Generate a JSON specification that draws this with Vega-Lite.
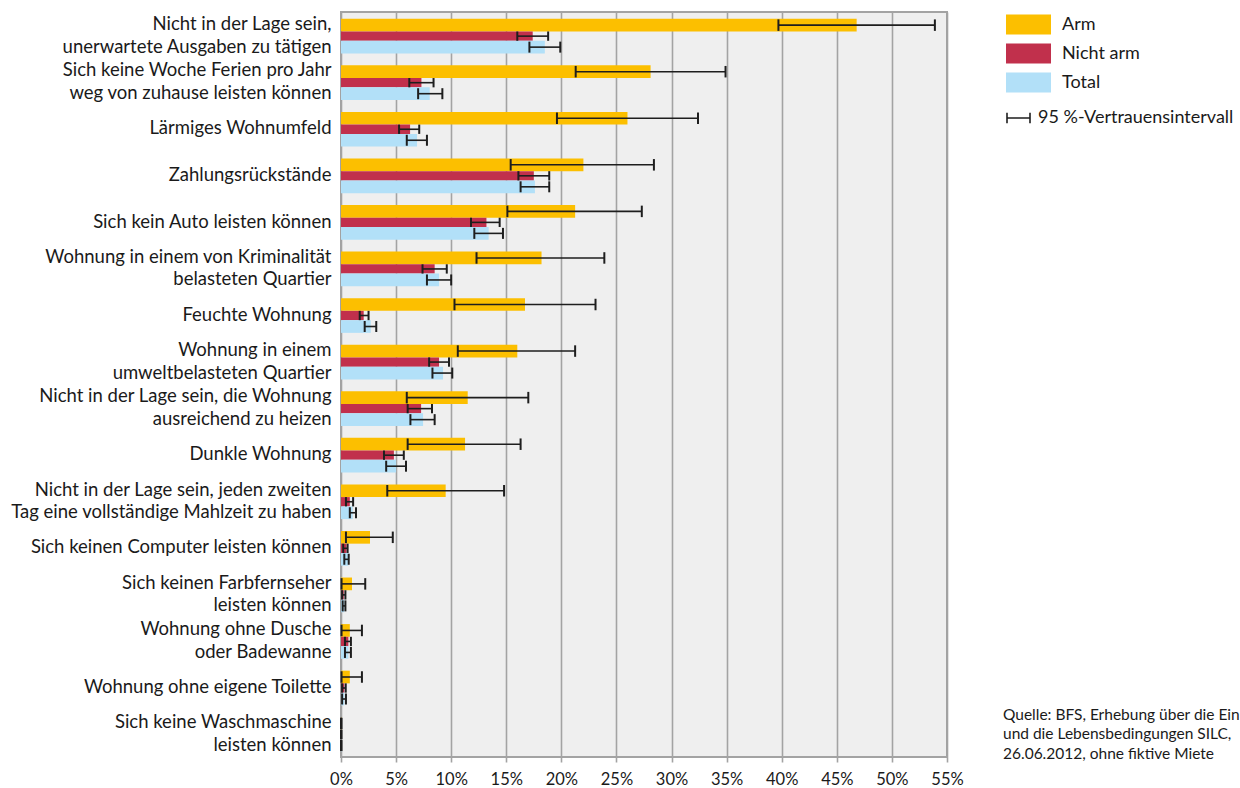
{
  "$schema": "https://vega.github.io/schema/vega-lite/v6.json",
  "autosize": {"type": "none"},
  "padding": {"left": 341, "top": 12, "right": 293, "bottom": 31},
  "width": 606,
  "height": 745,
  "background": "white",
  "config": {
    "font": "Lato",
    "view": {"fill": "#efefef", "stroke": "#a3a3a3", "strokeWidth": 2},
    "legend": {"labelFont": "Lato", "labelFontSize": 18, "labelColor": "#1a1a1a", "padding": 0, "labelLimit": 400}
  },
  "title": {
    "text": ["Quelle: BFS, Erhebung über die Einkommen", "und die Lebensbedingungen SILC,", "26.06.2012, ohne fiktive Miete"],
    "orient": "bottom",
    "anchor": "start",
    "frame": "group",
    "dx": 662,
    "dy": -84,
    "font": "Lato",
    "fontSize": 15.5,
    "fontWeight": "normal",
    "color": "#1a1a1a",
    "lineHeight": 19.5,
    "baseline": "top"
  },
  "data": {
    "values": [
      {"item": "Nicht in der Lage sein,|unerwartete Ausgaben zu tätigen", "series": "Arm", "value": 46.8, "lo": 39.7, "hi": 53.9},
      {"item": "Nicht in der Lage sein,|unerwartete Ausgaben zu tätigen", "series": "Nicht arm", "value": 17.4, "lo": 16.0, "hi": 18.8},
      {"item": "Nicht in der Lage sein,|unerwartete Ausgaben zu tätigen", "series": "Total", "value": 18.5, "lo": 17.1, "hi": 19.9},
      {"item": "Sich keine Woche Ferien pro Jahr|weg von zuhause leisten können", "series": "Arm", "value": 28.1, "lo": 21.3, "hi": 34.9},
      {"item": "Sich keine Woche Ferien pro Jahr|weg von zuhause leisten können", "series": "Nicht arm", "value": 7.3, "lo": 6.2, "hi": 8.4},
      {"item": "Sich keine Woche Ferien pro Jahr|weg von zuhause leisten können", "series": "Total", "value": 8.05, "lo": 7.0, "hi": 9.2},
      {"item": "Lärmiges Wohnumfeld", "series": "Arm", "value": 26.0, "lo": 19.6, "hi": 32.4},
      {"item": "Lärmiges Wohnumfeld", "series": "Nicht arm", "value": 6.27, "lo": 5.27, "hi": 7.1},
      {"item": "Lärmiges Wohnumfeld", "series": "Total", "value": 6.9, "lo": 5.97, "hi": 7.8},
      {"item": "Zahlungsrückstände", "series": "Arm", "value": 22.0, "lo": 15.4, "hi": 28.4},
      {"item": "Zahlungsrückstände", "series": "Nicht arm", "value": 17.5, "lo": 16.1, "hi": 18.9},
      {"item": "Zahlungsrückstände", "series": "Total", "value": 17.6, "lo": 16.3, "hi": 18.9},
      {"item": "Sich kein Auto leisten können", "series": "Arm", "value": 21.25, "lo": 15.1, "hi": 27.3},
      {"item": "Sich kein Auto leisten können", "series": "Nicht arm", "value": 13.2, "lo": 11.8, "hi": 14.4},
      {"item": "Sich kein Auto leisten können", "series": "Total", "value": 13.4, "lo": 12.1, "hi": 14.7},
      {"item": "Wohnung in einem von Kriminalität|belasteten Quartier", "series": "Arm", "value": 18.2, "lo": 12.3, "hi": 23.9},
      {"item": "Wohnung in einem von Kriminalität|belasteten Quartier", "series": "Nicht arm", "value": 8.5, "lo": 7.4, "hi": 9.6},
      {"item": "Wohnung in einem von Kriminalität|belasteten Quartier", "series": "Total", "value": 8.9, "lo": 7.8, "hi": 10.0},
      {"item": "Feuchte Wohnung", "series": "Arm", "value": 16.7, "lo": 10.3, "hi": 23.1},
      {"item": "Feuchte Wohnung", "series": "Nicht arm", "value": 2.06, "lo": 1.7, "hi": 2.5},
      {"item": "Feuchte Wohnung", "series": "Total", "value": 2.7, "lo": 2.15, "hi": 3.2},
      {"item": "Wohnung in einem|umweltbelasteten Quartier", "series": "Arm", "value": 16.0, "lo": 10.6, "hi": 21.25},
      {"item": "Wohnung in einem|umweltbelasteten Quartier", "series": "Nicht arm", "value": 8.9, "lo": 8.0, "hi": 9.8},
      {"item": "Wohnung in einem|umweltbelasteten Quartier", "series": "Total", "value": 9.26, "lo": 8.3, "hi": 10.1},
      {"item": "Nicht in der Lage sein, die Wohnung|ausreichend zu heizen", "series": "Arm", "value": 11.5, "lo": 5.97, "hi": 17.0},
      {"item": "Nicht in der Lage sein, die Wohnung|ausreichend zu heizen", "series": "Nicht arm", "value": 7.27, "lo": 6.05, "hi": 8.26},
      {"item": "Nicht in der Lage sein, die Wohnung|ausreichend zu heizen", "series": "Total", "value": 7.45, "lo": 6.3, "hi": 8.5},
      {"item": "Dunkle Wohnung", "series": "Arm", "value": 11.26, "lo": 6.05, "hi": 16.3},
      {"item": "Dunkle Wohnung", "series": "Nicht arm", "value": 4.8, "lo": 3.9, "hi": 5.7},
      {"item": "Dunkle Wohnung", "series": "Total", "value": 5.0, "lo": 4.1, "hi": 5.9},
      {"item": "Nicht in der Lage sein, jeden zweiten|Tag eine vollständige Mahlzeit zu haben", "series": "Arm", "value": 9.5, "lo": 4.2, "hi": 14.8},
      {"item": "Nicht in der Lage sein, jeden zweiten|Tag eine vollständige Mahlzeit zu haben", "series": "Nicht arm", "value": 0.8, "lo": 0.45, "hi": 1.1},
      {"item": "Nicht in der Lage sein, jeden zweiten|Tag eine vollständige Mahlzeit zu haben", "series": "Total", "value": 1.06, "lo": 0.8, "hi": 1.36},
      {"item": "Sich keinen Computer leisten können", "series": "Arm", "value": 2.63, "lo": 0.45, "hi": 4.7},
      {"item": "Sich keinen Computer leisten können", "series": "Nicht arm", "value": 0.5, "lo": 0.2, "hi": 0.6},
      {"item": "Sich keinen Computer leisten können", "series": "Total", "value": 0.67, "lo": 0.3, "hi": 0.7},
      {"item": "Sich keinen Farbfernseher|leisten können", "series": "Arm", "value": 1.0, "lo": 0.05, "hi": 2.2},
      {"item": "Sich keinen Farbfernseher|leisten können", "series": "Nicht arm", "value": 0.25, "lo": 0.1, "hi": 0.4},
      {"item": "Sich keinen Farbfernseher|leisten können", "series": "Total", "value": 0.3, "lo": 0.15, "hi": 0.4},
      {"item": "Wohnung ohne Dusche|oder Badewanne", "series": "Arm", "value": 0.8, "lo": 0.05, "hi": 1.9},
      {"item": "Wohnung ohne Dusche|oder Badewanne", "series": "Nicht arm", "value": 0.67, "lo": 0.36, "hi": 0.9},
      {"item": "Wohnung ohne Dusche|oder Badewanne", "series": "Total", "value": 0.67, "lo": 0.36, "hi": 0.9},
      {"item": "Wohnung ohne eigene Toilette", "series": "Arm", "value": 0.8, "lo": 0.05, "hi": 1.9},
      {"item": "Wohnung ohne eigene Toilette", "series": "Nicht arm", "value": 0.3, "lo": 0.1, "hi": 0.43},
      {"item": "Wohnung ohne eigene Toilette", "series": "Total", "value": 0.3, "lo": 0.1, "hi": 0.45},
      {"item": "Sich keine Waschmaschine|leisten können", "series": "Arm", "value": 0.03, "lo": 0.0, "hi": 0.05},
      {"item": "Sich keine Waschmaschine|leisten können", "series": "Nicht arm", "value": 0.03, "lo": 0.0, "hi": 0.05},
      {"item": "Sich keine Waschmaschine|leisten können", "series": "Total", "value": 0.03, "lo": 0.0, "hi": 0.05}
    ]
  },
  "encoding": {
    "y": {
      "field": "item",
      "type": "nominal",
      "sort": null,
      "title": null,
      "scale": {"paddingInner": 0, "paddingOuter": 0},
      "axis": {
        "domain": false,
        "ticks": false,
        "grid": false,
        "labelPadding": 10,
        "labelFont": "Lato",
        "labelFontSize": 18.5,
        "labelLineHeight": 22.7,
        "labelColor": "#1a1a1a",
        "labelLimit": 400,
        "labelOffset": {"expr": "indexof(datum.value, '|') >= 0 ? -11.35 : 0"},
        "labelExpr": "split(datum.value, '|')"
      }
    }
  },
  "layer": [
    {
      "transform": [{"filter": "datum.series === 'Arm'"}],
      "mark": {"type": "bar", "height": 12.7, "yOffset": -10.15},
      "encoding": {
        "x": {
          "field": "value",
          "type": "quantitative",
          "title": null,
          "scale": {"domain": [0, 55], "nice": false},
          "axis": {
            "values": [0, 5, 10, 15, 20, 25, 30, 35, 40, 45, 50, 55],
            "labelExpr": "datum.value + '%'",
            "grid": true,
            "gridColor": "#a3a3a3",
            "gridWidth": 1.6,
            "domain": false,
            "tickColor": "#a3a3a3",
            "tickWidth": 1.6,
            "tickSize": 5,
            "labelFont": "Lato",
            "labelFontSize": 16.5,
            "labelColor": "#1a1a1a",
            "labelPadding": 9,
            "labelFlush": false
          }
        },
        "fill": {
          "field": "series",
          "type": "nominal",
          "scale": {"domain": ["Arm", "Nicht arm", "Total"], "range": ["#fcbf00", "#c1304c", "#b2e0f8"]},
          "legend": {
            "title": null,
            "orient": "none",
            "legendX": 665,
            "legendY": -2,
            "symbolType": "M-1,-0.444H1V0.444H-1Z",
            "symbolSize": 2025,
            "symbolStrokeWidth": 0,
            "clipHeight": 29,
            "rowPadding": 0,
            "labelOffset": 11
          }
        }
      }
    },
    {
      "transform": [{"filter": "datum.series === 'Nicht arm'"}],
      "mark": {"type": "bar", "height": 9.3, "yOffset": 0.85},
      "encoding": {
        "x": {"field": "value", "type": "quantitative", "title": null, "scale": {"domain": [0, 55], "nice": false}},
        "fill": {"field": "series", "type": "nominal", "scale": {"domain": ["Arm", "Nicht arm", "Total"], "range": ["#fcbf00", "#c1304c", "#b2e0f8"]}}
      }
    },
    {
      "transform": [{"filter": "datum.series === 'Total'"}],
      "mark": {"type": "bar", "height": 12.7, "yOffset": 11.85},
      "encoding": {
        "x": {"field": "value", "type": "quantitative", "title": null, "scale": {"domain": [0, 55], "nice": false}},
        "fill": {"field": "series", "type": "nominal", "scale": {"domain": ["Arm", "Nicht arm", "Total"], "range": ["#fcbf00", "#c1304c", "#b2e0f8"]}}
      }
    },
    {
      "transform": [{"filter": "datum.series === 'Arm'"}],
      "mark": {"type": "rule", "yOffset": -10.15, "strokeWidth": 1.6},
      "encoding": {
        "x": {"field": "lo", "type": "quantitative", "title": null, "scale": {"domain": [0, 55], "nice": false}},
        "x2": {"field": "hi"},
        "stroke": {
          "datum": "95 %-Vertrauensintervall",
          "scale": {"range": ["#1e1e1e"]},
          "legend": {
            "title": null,
            "orient": "none",
            "legendX": 665,
            "legendY": 93.5,
            "symbolType": "M-1,-0.45V0.45M-1,0H1M1,-0.45V0.45",
            "symbolSize": 529,
            "symbolStrokeWidth": 1.6,
            "labelOffset": 7,
            "labelLimit": 400
          }
        }
      }
    },
    {
      "transform": [{"filter": "datum.series === 'Nicht arm'"}],
      "mark": {"type": "rule", "yOffset": 0.85, "strokeWidth": 1.6},
      "encoding": {
        "x": {"field": "lo", "type": "quantitative", "title": null, "scale": {"domain": [0, 55], "nice": false}},
        "x2": {"field": "hi"},
        "stroke": {"datum": "95 %-Vertrauensintervall", "scale": {"range": ["#1e1e1e"]}}
      }
    },
    {
      "transform": [{"filter": "datum.series === 'Total'"}],
      "mark": {"type": "rule", "yOffset": 11.85, "strokeWidth": 1.6},
      "encoding": {
        "x": {"field": "lo", "type": "quantitative", "title": null, "scale": {"domain": [0, 55], "nice": false}},
        "x2": {"field": "hi"},
        "stroke": {"datum": "95 %-Vertrauensintervall", "scale": {"range": ["#1e1e1e"]}}
      }
    },
    {
      "transform": [{"filter": "datum.series === 'Arm'"}, {"fold": ["lo", "hi"], "as": ["end", "at"]}],
      "mark": {"type": "tick", "yOffset": -10.15, "size": 11.5, "thickness": 2, "color": "#1e1e1e", "opacity": 1},
      "encoding": {
        "x": {"field": "at", "type": "quantitative", "title": null, "scale": {"domain": [0, 55], "nice": false}}
      }
    },
    {
      "transform": [{"filter": "datum.series === 'Nicht arm'"}, {"fold": ["lo", "hi"], "as": ["end", "at"]}],
      "mark": {"type": "tick", "yOffset": 0.85, "size": 9.3, "thickness": 2, "color": "#1e1e1e", "opacity": 1},
      "encoding": {
        "x": {"field": "at", "type": "quantitative", "title": null, "scale": {"domain": [0, 55], "nice": false}}
      }
    },
    {
      "transform": [{"filter": "datum.series === 'Total'"}, {"fold": ["lo", "hi"], "as": ["end", "at"]}],
      "mark": {"type": "tick", "yOffset": 11.85, "size": 11, "thickness": 2, "color": "#1e1e1e", "opacity": 1},
      "encoding": {
        "x": {"field": "at", "type": "quantitative", "title": null, "scale": {"domain": [0, 55], "nice": false}}
      }
    }
  ]
}
